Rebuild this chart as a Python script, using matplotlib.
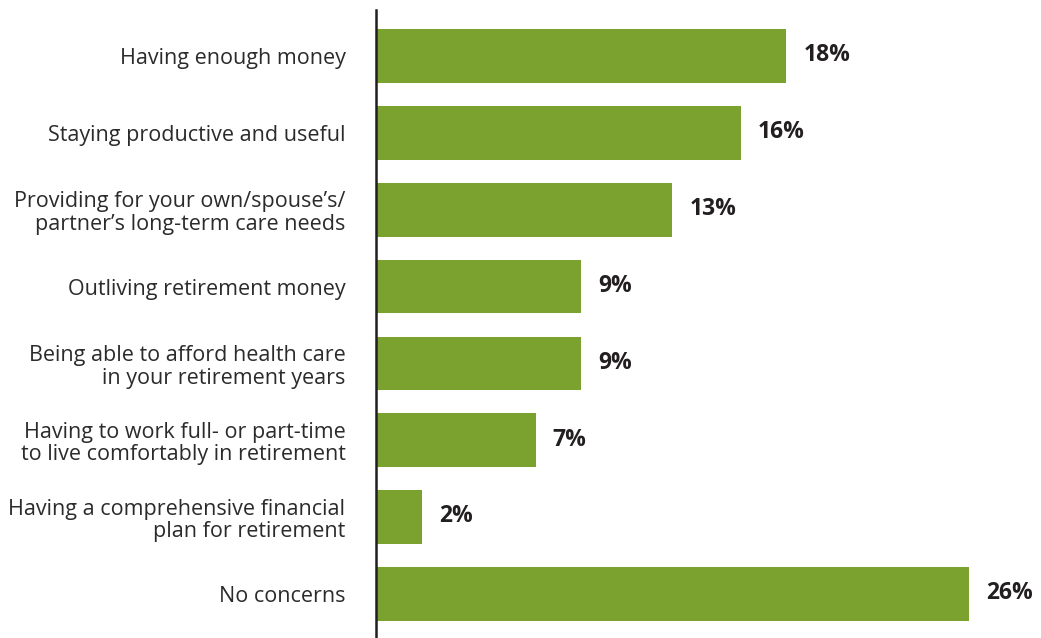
import matplotlib
matplotlib.use('Agg')
import matplotlib.pyplot as plt

# concerns about retirement, share of respondents (%)
categories = [
    'Having enough money',
    'Staying productive and useful',
    'Providing for your own/spouse\u2019s/\npartner\u2019s long-term care needs',
    'Outliving retirement money',
    'Being able to afford health care\nin your retirement years',
    'Having to work full- or part-time\nto live comfortably in retirement',
    'Having a comprehensive financial\nplan for retirement',
    'No concerns',
]
values = [18, 16, 13, 9, 9, 7, 2, 26]

plt.rcParams['font.family'] = ['Open Sans', 'DejaVu Sans']

fig = plt.figure(figsize=(10.41, 6.38), dpi=100)
ax = fig.add_axes([376 / 1041, 0, 665 / 1041, 628 / 638])

y = list(range(len(categories)))
ax.barh(y, values, height=0.70, color='#7BA22F', zorder=2)

for yi, v in zip(y, values):
    ax.text(v + 0.75, yi - 0.01, f'{v}%', va='center', ha='left',
            fontsize=16.5, fontweight='bold', color='#231F20')

ax.set_xlim(0, 665 / 22.8)
ax.set_ylim(len(categories) - 1 + 0.572, -0.598)
ax.set_yticks(y)
ax.set_yticklabels(categories, fontsize=15.5, color='#2B2B2B', linespacing=1.1)
ax.tick_params(axis='y', length=0, pad=22)
ax.set_xticks([])

for side in ['top', 'right', 'bottom']:
    ax.spines[side].set_visible(False)
ax.spines['left'].set_color('#231F20')
ax.spines['left'].set_linewidth(1.8)
ax.spines['left'].set_zorder(3)

fig.savefig('out.png', dpi=100)
